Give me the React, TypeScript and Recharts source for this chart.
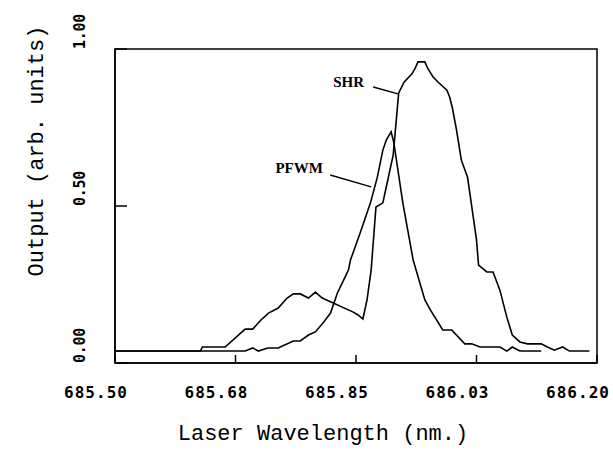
import React from 'react';
import {
  LineChart,
  Line,
  XAxis,
  YAxis,
  ReferenceArea,
  ReferenceLine,
  ReferenceDot,
} from 'recharts';

// SHR series (wavelength in nm, output in arb. units)
const shrWavelength = [
  685.501, 685.624, 685.627, 685.66, 685.689, 685.7, 685.712, 685.723, 685.737,
  685.75, 685.759, 685.769, 685.781, 685.791, 685.801, 685.846, 685.853, 685.86,
  685.866, 685.872, 685.879, 685.889, 685.893, 685.904, 685.912, 685.92, 685.931,
  685.936, 685.94, 685.95, 685.954, 685.962, 685.969, 685.982, 685.986, 685.99,
  685.996, 686.003, 686.012, 686.025, 686.028, 686.04, 686.049, 686.059, 686.069,
  686.077, 686.088, 686.099, 686.119, 686.128, 686.138, 686.15, 686.16, 686.189,
];
const shrOutput = [
  0.038, 0.038, 0.051, 0.051, 0.108, 0.108, 0.137, 0.159, 0.175,
  0.207, 0.22, 0.22, 0.207, 0.226, 0.207, 0.162, 0.153, 0.14,
  0.201, 0.296, 0.497, 0.51, 0.551, 0.662, 0.86, 0.895, 0.92,
  0.939, 0.959, 0.959, 0.939, 0.911, 0.895, 0.869, 0.847, 0.812,
  0.742, 0.646, 0.592, 0.392, 0.312, 0.29, 0.29, 0.232, 0.146,
  0.089, 0.067, 0.061, 0.061, 0.051, 0.041, 0.051, 0.038, 0.038,
];

// PFWM series
const pfwmWavelength = [
  685.501, 685.689, 685.7, 685.708, 685.722, 685.737, 685.759, 685.769, 685.781,
  685.791, 685.802, 685.813, 685.823, 685.832, 685.839, 685.842, 685.856, 685.871,
  685.881, 685.889, 685.894, 685.901, 685.905, 685.918, 685.933, 685.95, 685.958,
  685.976, 685.989, 686.008, 686.018, 686.03, 686.059, 686.069, 686.077, 686.088,
  686.119,
];
const pfwmOutput = [
  0.038, 0.038, 0.048, 0.038, 0.048, 0.048, 0.07, 0.07, 0.089,
  0.099, 0.127, 0.159, 0.223, 0.264, 0.296, 0.328, 0.414, 0.51,
  0.592, 0.678, 0.71, 0.736, 0.701, 0.51, 0.328, 0.201, 0.169,
  0.105, 0.105, 0.061, 0.061, 0.051, 0.051, 0.038, 0.051, 0.038,
  0.038,
];

const xTickValues = [685.5, 685.675, 685.85, 686.025, 686.2];
const xTickLabels = ['685.50', '685.68', '685.85', '686.03', '686.20'];
const yTickValues = [0, 0.5, 1];
const yTickLabels = ['0.00', '0.50', '1.00'];

const xTitle = 'Laser Wavelength (nm.)';
const yTitle = 'Output (arb. units)';

// Annotations: label text, label anchor, pointer line start/end (data coords)
const annotationText = ['SHR', 'PFWM'];
const annotationTextX = [685.817, 685.733];
const annotationTextY = [0.879, 0.605];
const annotationLineX1 = [685.875, 685.8125];
const annotationLineY1 = [0.879, 0.599];
const annotationLineX2 = [685.911, 685.872];
const annotationLineY2 = [0.857, 0.561];

const shrData = shrWavelength.map((x, i) => ({ x, y: shrOutput[i] }));
const pfwmData = pfwmWavelength.map((x, i) => ({ x, y: pfwmOutput[i] }));

const tickFont = '"DejaVu Sans Mono", monospace';
const titleFont = '"Liberation Mono", "DejaVu Sans Mono", monospace';

const labelFor = (values: number[], labels: string[], v: number) => {
  const i = values.findIndex((t) => Math.abs(t - v) < 1e-6);
  return i >= 0 ? labels[i] : String(v);
};

const XTick = (props: any) => {
  const { x, y, payload } = props;
  return (
    <text
      x={x - 19}
      y={y + 35}
      textAnchor="middle"
      fontFamily={tickFont}
      fontWeight="bold"
      fontSize={16}
      letterSpacing={1}
      fill="#000"
    >
      {labelFor(xTickValues, xTickLabels, payload.value)}
    </text>
  );
};

const YTick = (props: any) => {
  const { x, y, payload } = props;
  const bx = x - 30;
  return (
    <text
      x={bx}
      y={y}
      transform={`rotate(-90, ${bx}, ${y})`}
      textAnchor="start"
      fontFamily={tickFont}
      fontWeight="bold"
      fontSize={15}
      letterSpacing={-0.3}
      fill="#000"
    >
      {labelFor(yTickValues, yTickLabels, payload.value)}
    </text>
  );
};

const XTitle = (props: any) => {
  const { viewBox } = props;
  const cx = viewBox.x + viewBox.width / 2 - 33;
  const by = viewBox.y + 77;
  return (
    <text x={cx} y={by} textAnchor="middle" fontFamily={titleFont} fontSize={22} fill="#000">
      {xTitle}
    </text>
  );
};

const YTitle = (props: any) => {
  const { viewBox } = props;
  const bx = viewBox.x + 43;
  const cy = viewBox.y + viewBox.height / 2 - 55;
  return (
    <text
      x={bx}
      y={cy}
      transform={`rotate(-90, ${bx}, ${cy})`}
      textAnchor="middle"
      fontFamily={titleFont}
      fontSize={22}
      fill="#000"
    >
      {yTitle}
    </text>
  );
};

const makeTextShape = (label: string) => (p: any) => (
  <text
    x={p.cx}
    y={p.cy}
    fontFamily='"Liberation Serif", serif'
    fontWeight="bold"
    fontSize={15}
    fill="#000"
  >
    {label}
  </text>
);

export default function App() {
  return (
    <div style={{ position: 'absolute', left: 0, top: 0, background: '#fff' }}>
      <LineChart
        width={613}
        height={451}
        margin={{ top: 49, right: 16, bottom: 0, left: 0 }}
      >
        <XAxis
          dataKey="x"
          type="number"
          domain={[685.5, 686.2]}
          ticks={xTickValues}
          allowDataOverflow
          height={88}
          tickSize={-8}
          tickMargin={8}
          tickLine={{ stroke: '#000', strokeWidth: 1.5 }}
          axisLine={{ stroke: '#000', strokeWidth: 1.5 }}
          tick={<XTick />}
          interval={0}
          label={<XTitle />}
        />
        <YAxis
          type="number"
          domain={[0, 1]}
          ticks={yTickValues}
          allowDataOverflow
          width={115}
          tickSize={-12}
          tickMargin={12}
          tickLine={{ stroke: '#000', strokeWidth: 1.5 }}
          axisLine={{ stroke: '#000', strokeWidth: 1.5 }}
          tick={<YTick />}
          interval={0}
          label={<YTitle />}
        />
        <ReferenceArea
          x1={685.5}
          x2={686.2}
          y1={0}
          y2={1}
          fill="none"
          fillOpacity={0}
          stroke="#000"
          strokeWidth={1.5}
        />
        <Line
          data={shrData}
          dataKey="y"
          type="linear"
          stroke="#000"
          strokeWidth={1.6}
          dot={false}
          isAnimationActive={false}
        />
        <Line
          data={pfwmData}
          dataKey="y"
          type="linear"
          stroke="#000"
          strokeWidth={1.6}
          dot={false}
          isAnimationActive={false}
        />
        {annotationText.map((t, i) => (
          <ReferenceLine
            key={`l-${t}`}
            segment={[
              { x: annotationLineX1[i], y: annotationLineY1[i] },
              { x: annotationLineX2[i], y: annotationLineY2[i] },
            ]}
            stroke="#000"
            strokeWidth={1.5}
          />
        ))}
        {annotationText.map((t, i) => (
          <ReferenceDot
            key={`t-${t}`}
            x={annotationTextX[i]}
            y={annotationTextY[i]}
            r={0}
            shape={makeTextShape(t)}
          />
        ))}
      </LineChart>
    </div>
  );
}
